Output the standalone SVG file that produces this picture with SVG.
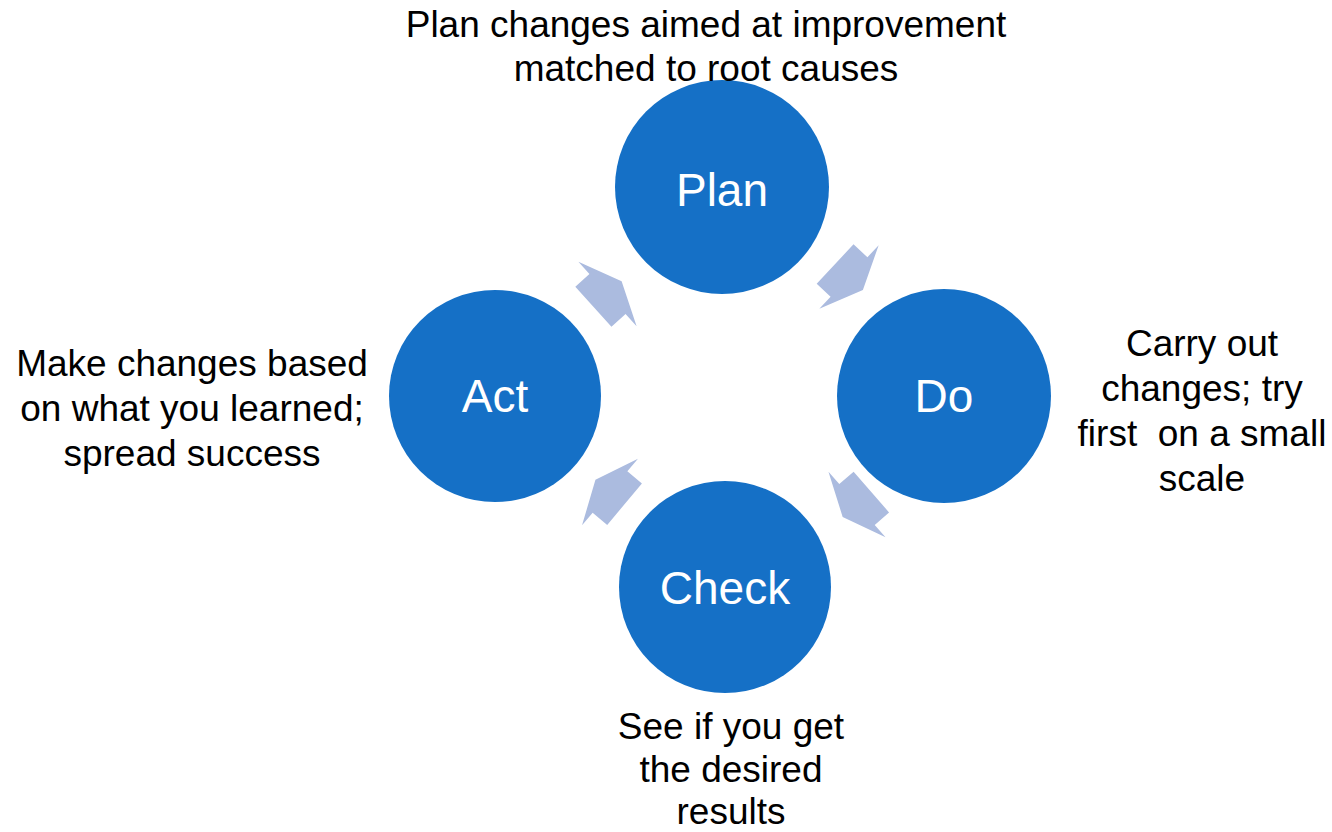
<svg xmlns="http://www.w3.org/2000/svg" width="1332" height="832" viewBox="0 0 1332 832">
<defs>
<style>
.node circle{fill:#1570C6;}
.node text.t{fill:#ffffff;font-family:"Liberation Sans",Arial,sans-serif;font-size:46px;text-anchor:middle;}
.lbl{fill:#000000;font-family:"Liberation Sans",Arial,sans-serif;font-size:37px;text-anchor:middle;}
.arrow{fill:#ABBBDF;}
</style>
<polygon id="arr" points="-19,-27 0,-27 0,-43.5 19,0 0,43.5 0,27 -19,27"/>
</defs>
<rect width="1332" height="832" fill="#ffffff"/>
<g id="connectors">
<use href="#arr" class="arrow" transform="translate(849,277) rotate(43)"/>
<use href="#arr" class="arrow" transform="translate(857,504.5) rotate(139)"/>
<use href="#arr" class="arrow" transform="translate(610,492) rotate(-140)"/>
<use href="#arr" class="arrow" transform="translate(607.5,294) rotate(-42)"/>
</g>
<g id="plan" class="node">
<circle cx="722" cy="187" r="107"/>
<text class="t" x="722" y="206">Plan</text>
<text class="lbl" x="706" y="37">Plan changes aimed at improvement</text>
<text class="lbl" x="706" y="81">matched to root causes</text>
</g>
<g id="do" class="node">
<circle cx="944" cy="396" r="107"/>
<text class="t" x="944" y="412">Do</text>
<text class="lbl" x="1202" y="356">Carry out</text>
<text class="lbl" x="1202" y="401">changes; try</text>
<text class="lbl" x="1202" y="446" xml:space="preserve">first  on a small</text>
<text class="lbl" x="1202" y="491">scale</text>
</g>
<g id="check" class="node">
<circle cx="725" cy="587" r="106"/>
<text class="t" x="725" y="604">Check</text>
<text class="lbl" x="731" y="739">See if you get</text>
<text class="lbl" x="731" y="782">the desired</text>
<text class="lbl" x="731" y="824">results</text>
</g>
<g id="act" class="node">
<circle cx="495" cy="396" r="106"/>
<text class="t" x="495" y="412">Act</text>
<text class="lbl" x="192" y="376">Make changes based</text>
<text class="lbl" x="192" y="421">on what you learned;</text>
<text class="lbl" x="192" y="466">spread success</text>
</g>
</svg>
